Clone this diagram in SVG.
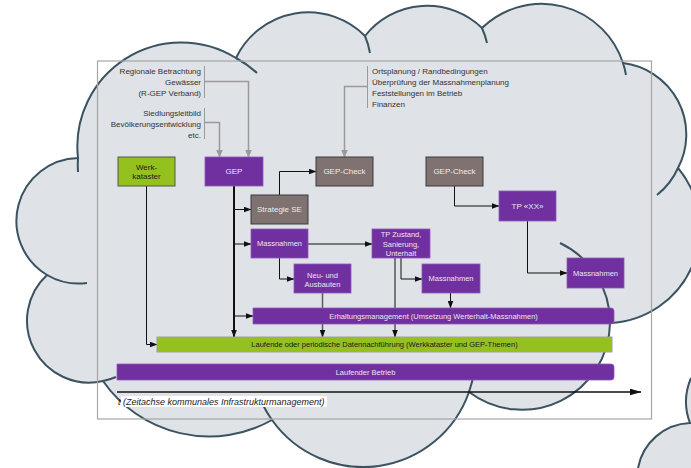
<svg xmlns="http://www.w3.org/2000/svg" width="691" height="468" viewBox="0 0 691 468">
  <defs>
    <style>
      .cloud { fill: #dfe2e6; stroke: #3b5260; stroke-width: 2; }
      .hook { fill: none; stroke: #3b5260; stroke-width: 2; }
      .frame { fill: none; stroke: #a6a6a6; stroke-width: 1.2; }
      .purple { fill: #7030a0; stroke: #8d5bb7; stroke-width: 0.8; }
      .brown { fill: #7f7270; stroke: #3a3a3a; stroke-width: 1; }
      .green { fill: #95c11f; stroke: #555555; stroke-width: 1; }
      .greenbar { fill: #95c11f; stroke: #a0a0a0; stroke-width: 1; }
      text { font-family: "Liberation Sans", Arial, sans-serif; }
      .lbl { font-size: 8px; fill: #333333; }
      .n8 { font-size: 8px; text-anchor: middle; }
      .n75 { font-size: 7.5px; text-anchor: middle; }
      .light { fill: #ece4f3; }
      .grey { fill: #eeeeee; }
      .dark { fill: #1a1a1a; }
      .conn { fill: none; stroke: #111111; stroke-width: 1; }
      .thick { fill: none; stroke: #111111; stroke-width: 2; }
      .gconn { fill: none; stroke: #9a9a9a; stroke-width: 1.5; }
      .bracket { fill: none; stroke: #9a9a9a; stroke-width: 1; }
    </style>
    <marker id="ah" markerUnits="userSpaceOnUse" markerWidth="8" markerHeight="6" refX="7.5" refY="3" orient="auto">
      <path d="M0,0 L8,3 L0,6 z" fill="#111111"/>
    </marker>
    <marker id="ahg" markerUnits="userSpaceOnUse" markerWidth="8" markerHeight="7" refX="7.5" refY="3.5" orient="auto">
      <path d="M0,0 L8,3.5 L0,7 z" fill="#9a9a9a"/>
    </marker>
    <marker id="ahbig" markerUnits="userSpaceOnUse" markerWidth="12" markerHeight="7" refX="11.5" refY="3.5" orient="auto">
      <path d="M0,0 L12,3.5 L0,7 z" fill="#111111"/>
    </marker>
  </defs>

  <!-- background cloud -->
  <g id="cloud">
    <path class="cloud" d="M78,158 A104,104 0 0 1 236,58 A80,80 0 0 1 365,36 A79,79 0 0 1 482,28 A85.6,85.6 0 0 1 623,63 A72,72 0 0 1 678,168 A94.5,94.5 0 0 1 610,323 A88,88 0 0 1 469,392 A112,112 0 0 1 272,420 A129,129 0 0 1 103,381 A62,62 0 0 1 47,275 A63,63 0 0 1 78,158 Z"/>
    <path class="hook" d="M78,158 A104,104 0 0 0 78,172"/>
    <path class="hook" d="M236,58 A104,104 0 0 1 257,73"/>
    <path class="hook" d="M365,36 A80,80 0 0 1 370,53"/>
    <path class="hook" d="M482,28 A79,79 0 0 1 487,43"/>
    <path class="hook" d="M623,63 A85.6,85.6 0 0 1 626,75"/>
    <path class="hook" d="M678,168 A72,72 0 0 1 657,195"/>
    <path class="hook" d="M610,323 A88,88 0 0 0 560,243"/>
    <path class="hook" d="M469,392 A112,112 0 0 0 474,372"/>
    <path class="hook" d="M272,420 A112,112 0 0 1 263,405"/>
    <path class="hook" d="M103,381 A62,62 0 0 0 116,377"/>
    <path class="hook" d="M47,275 A63,63 0 0 0 87,283"/>
  </g>
  <g id="cloud-2">
    <path d="M691,378 A60,60 0 0 0 690,423 A55,55 0 0 0 638,468 L691,468 Z" fill="#dfe2e6"/>
    <path class="hook" d="M691,378 A60,60 0 0 0 690,423 A55,55 0 0 0 638,468"/>
  </g>

  <rect class="frame" x="97.5" y="61" width="554" height="358"/>

  <!-- input notes -->
  <g id="note-regional">
    <text class="lbl" x="201" y="74.4" text-anchor="end">Regionale Betrachtung</text>
    <text class="lbl" x="201" y="85.2" text-anchor="end">Gewässer</text>
    <text class="lbl" x="201" y="96.2" text-anchor="end">(R-GEP Verband)</text>
    <path class="bracket" d="M204.5,66 V98"/>
  </g>
  <g id="note-siedlung">
    <text class="lbl" x="201" y="116" text-anchor="end">Siedlungsleitbild</text>
    <text class="lbl" x="201" y="126.6" text-anchor="end">Bevölkerungsentwicklung</text>
    <text class="lbl" x="201" y="137.6" text-anchor="end">etc.</text>
    <path class="bracket" d="M204.5,108 V139"/>
  </g>
  <g id="note-check">
    <text class="lbl" x="372" y="74">Ortsplanung / Randbedingungen</text>
    <text class="lbl" x="372" y="85">Überprüfung der Massnahmenplanung</text>
    <text class="lbl" x="372" y="96">Feststellungen im Betrieb</text>
    <text class="lbl" x="372" y="107">Finanzen</text>
    <path class="bracket" d="M367.5,66 V108"/>
  </g>

  <!-- connectors -->
  <g id="connectors">
    <path class="gconn" d="M204.5,81.5 H248.5 V157" marker-end="url(#ahg)"/>
    <path class="gconn" d="M204.5,122.5 H219.5 V157" marker-end="url(#ahg)"/>
    <path class="gconn" d="M367.5,86.5 H344.5 V157" marker-end="url(#ahg)"/>

    <path class="conn" d="M146.5,186 V344.5 H157" marker-end="url(#ah)"/>
    <path class="thick" d="M234,186 V337" marker-end="url(#ah)"/>
    <path class="conn" d="M234,209.5 H251" marker-end="url(#ah)"/>
    <path class="conn" d="M234,244 H251" marker-end="url(#ah)"/>
    <path class="conn" d="M234,316 H253" marker-end="url(#ah)"/>
    <path class="conn" d="M279.5,195 V171.5 H316" marker-end="url(#ah)"/>
    <path class="conn" d="M308,244 H372" marker-end="url(#ah)"/>
    <path class="conn" d="M279.5,258 V279 H294" marker-end="url(#ah)"/>
    <path d="M322.5,293 V337" fill="none" stroke="#5a5a5a" stroke-width="1.5" marker-end="url(#ah)"/>
    <path class="conn" d="M395,258 V337" marker-end="url(#ah)"/>
    <path class="conn" d="M401,258 V279 H422" marker-end="url(#ah)"/>
    <path class="conn" d="M450.5,293 V308" marker-end="url(#ah)"/>
    <path class="conn" d="M454.5,186 V206 H499" marker-end="url(#ah)"/>
    <path class="conn" d="M527.5,221 V273 H567" marker-end="url(#ah)"/>
    <path d="M117,392 H641" fill="none" stroke="#111111" stroke-width="1.3" marker-end="url(#ahbig)"/>
  </g>

  <!-- nodes -->
  <g id="werkkataster">
    <rect class="green" x="118" y="157" width="57" height="29"/>
    <text class="n8 dark" x="146.5" y="169.6">Werk-</text>
    <text class="n8 dark" x="146.5" y="178.9">kataster</text>
  </g>
  <g id="gep">
    <rect class="purple" x="205" y="157" width="58" height="29"/>
    <text class="n8 light" x="234" y="174.4">GEP</text>
  </g>
  <g id="gep-check-1">
    <rect class="brown" x="316" y="157" width="57" height="29"/>
    <text class="n8 grey" x="344.5" y="174.4">GEP-Check</text>
  </g>
  <g id="gep-check-2">
    <rect class="brown" x="426" y="157" width="57" height="29"/>
    <text class="n8 grey" x="454.5" y="174.4">GEP-Check</text>
  </g>
  <g id="strategie-se">
    <rect class="brown" x="251" y="195" width="57" height="29"/>
    <text class="n8 grey" x="279.5" y="212.4">Strategie SE</text>
  </g>
  <g id="massnahmen-1">
    <rect class="purple" x="251" y="229" width="57" height="29"/>
    <text class="n75 light" x="279.5" y="246.2">Massnahmen</text>
  </g>
  <g id="tp-zustand">
    <rect class="purple" x="372" y="229" width="58" height="29"/>
    <text class="n75 light" x="401" y="237">TP Zustand,</text>
    <text class="n75 light" x="401" y="246.6">Sanierung,</text>
    <text class="n75 light" x="401" y="256">Unterhalt</text>
  </g>
  <g id="neu-ausbauten">
    <rect class="purple" x="294" y="264" width="57" height="29"/>
    <text class="n75 light" x="322.5" y="278.4">Neu- und</text>
    <text class="n75 light" x="322.5" y="287">Ausbauten</text>
  </g>
  <g id="massnahmen-2">
    <rect class="purple" x="422" y="264" width="58" height="29"/>
    <text class="n75 light" x="451" y="281.2">Massnahmen</text>
  </g>
  <g id="tp-xx">
    <rect class="purple" x="499" y="191" width="57" height="30"/>
    <text class="n8 light" x="527.5" y="208.8">TP «XX»</text>
  </g>
  <g id="massnahmen-3">
    <rect class="purple" x="567" y="258" width="57" height="30"/>
    <text class="n75 light" x="595.5" y="275.7">Massnahmen</text>
  </g>

  <!-- time bars -->
  <g id="erhaltungsmanagement">
    <path class="purple" d="M253,308 H611 Q614,308 614,311 V321 Q614,324 611,324 H253 Z"/>
    <text class="n75 light" x="433.5" y="318.7">Erhaltungsmanagement (Umsetzung Werterhalt-Massnahmen)</text>
  </g>
  <g id="datennachfuehrung">
    <rect class="greenbar" x="157" y="337" width="455" height="15"/>
    <text class="n75 dark" x="384.5" y="347.2">Laufende oder periodische Datennachführung (Werkkataster und GEP-Themen)</text>
  </g>
  <g id="laufender-betrieb">
    <path class="purple" d="M117,364 H611 Q614,364 614,367 V377 Q614,380 611,380 H117 Z"/>
    <text class="n75 light" x="365.5" y="374.7">Laufender Betrieb</text>
  </g>

  <g id="time-axis-label">
    <rect x="121" y="396" width="206" height="11" fill="#ffffff"/>
    <text x="118" y="404.8" font-size="9" font-style="italic" fill="#222222">t (Zeitachse kommunales Infrastrukturmanagement)</text>
  </g>
</svg>
